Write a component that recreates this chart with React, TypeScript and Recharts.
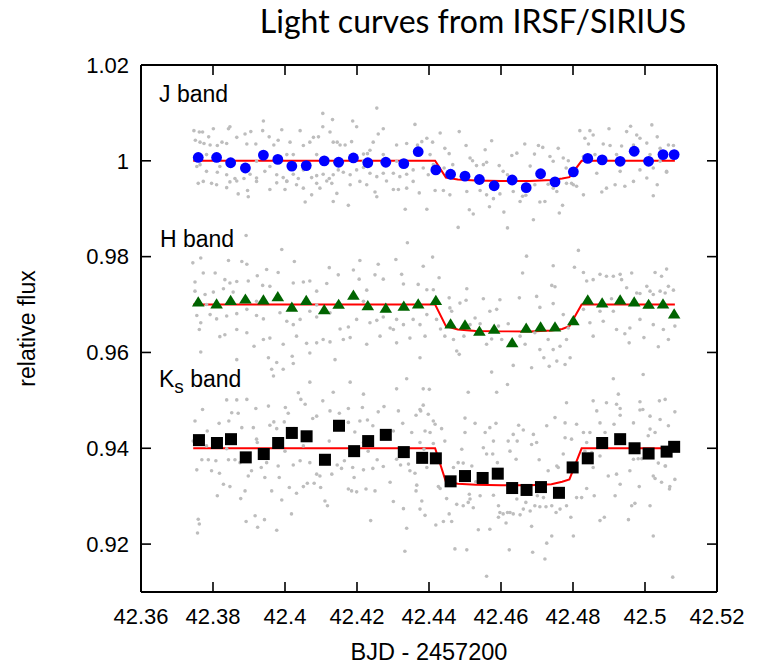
import React from 'react';
import { ComposedChart, Scatter, Line, XAxis, YAxis, Label } from 'recharts';

const titleText = 'Light curves from IRSF/SIRIUS';
const xLabel = 'BJD - 2457200';
const yLabel = 'relative flux';
const xTicks = [42.36, 42.38, 42.4, 42.42, 42.44, 42.46, 42.48, 42.5, 42.52];
const yTicks = [0.92, 0.94, 0.96, 0.98, 1, 1.02];

const binT = [42.3759, 42.381, 42.3849, 42.389, 42.394, 42.398, 42.4019, 42.4059, 42.4109, 42.4149, 42.419, 42.423, 42.428, 42.433, 42.437, 42.4419, 42.446, 42.45, 42.454, 42.4581, 42.4631, 42.467, 42.471, 42.475, 42.4801, 42.4841, 42.4881, 42.4931, 42.497, 42.501, 42.505, 42.5081];
const ksBinT = [42.3761, 42.3811, 42.385, 42.3891, 42.3941, 42.3981, 42.4019, 42.406, 42.4111, 42.415, 42.4192, 42.4231, 42.428, 42.433, 42.4381, 42.4419, 42.446, 42.45, 42.4549, 42.4591, 42.4631, 42.4671, 42.4711, 42.4761, 42.4799, 42.4841, 42.4881, 42.4931, 42.4971, 42.501, 42.506, 42.5081];

const jBinned = [1.0007, 1.0007, 0.9996, 0.9985, 1.0012, 1.0003, 0.9989, 0.999, 1.0, 0.9997, 1.0006, 0.9996, 0.9997, 0.9994, 1.0019, 0.9981, 0.9972, 0.9968, 0.9961, 0.9948, 0.996, 0.9944, 0.9973, 0.9956, 0.9977, 1.0005, 1.0002, 0.9999, 1.002, 0.9999, 1.0013, 1.0013];
const hBinned = [0.9706, 0.9702, 0.9709, 0.9712, 0.971, 0.9717, 0.9695, 0.9709, 0.969, 0.9701, 0.972, 0.9698, 0.9693, 0.9697, 0.9702, 0.9709, 0.966, 0.9658, 0.9645, 0.9649, 0.9621, 0.9651, 0.9654, 0.9654, 0.9667, 0.971, 0.9704, 0.971, 0.9706, 0.9701, 0.9702, 0.9681];
const ksBinned = [0.9417, 0.9411, 0.9419, 0.9381, 0.9388, 0.9411, 0.9432, 0.9425, 0.9376, 0.9447, 0.9394, 0.9415, 0.9428, 0.9392, 0.938, 0.9379, 0.9331, 0.9342, 0.9338, 0.9347, 0.9317, 0.9313, 0.9319, 0.9307, 0.936, 0.9379, 0.9411, 0.9419, 0.94, 0.9389, 0.9393, 0.9403];

const modelT = [42.3745, 42.4417, 42.4447, 42.448, 42.453, 42.46, 42.468, 42.474, 42.477, 42.479, 42.4824, 42.5083];
const jModel = [1.0, 1.0, 0.9965, 0.9961, 0.9959, 0.9958, 0.9958, 0.996, 0.9963, 0.9966, 1.0, 1.0];
const hModel = [0.97, 0.97, 0.9655, 0.9648, 0.9645, 0.9644, 0.9644, 0.9646, 0.9649, 0.9655, 0.97, 0.97];
const ksModel = [0.94, 0.94, 0.933, 0.9326, 0.9324, 0.9323, 0.9323, 0.9325, 0.933, 0.9335, 0.94, 0.94];

const jFrames = [
[42.3747,1.0063],[42.3762,1.006],[42.3771,1.006],[42.3801,1.0067],[42.3788,1.005],[42.3751,1.0043],[42.3764,1.0039],[42.3775,1.0036],[42.3792,1.0033],[42.3812,1.0032],[42.3825,1.0039],[42.3838,1.0036],[42.3847,1.0071],[42.3843,1.0067],[42.3866,1.0049],[42.3889,1.0056],[42.3905,1.0061],[42.3894,1.0035],[42.3919,1.0035],[42.394,1.0083],[42.3938,1.0063],[42.3956,1.005],[42.3969,1.0033],[42.3991,1.0065],[42.3981,1.0043],[42.4014,1.0039],[42.4023,1.0013],[42.4042,1.0063],[42.4051,1.0032],[42.4069,1.0039],[42.4079,1.0049],[42.4093,1.005],[42.4105,1.0099],[42.4105,1.0071],[42.4132,1.0086],[42.4125,1.006],[42.4134,1.0039],[42.4145,1.0039],[42.4153,1.0033],[42.4167,1.0033],[42.4188,1.0083],[42.4199,1.0071],[42.4185,1.004],[42.4218,1.0014],[42.4255,1.011],[42.4273,1.0067],[42.4259,1.0056],[42.4245,1.0039],[42.4236,1.0022],[42.4229,1.0015],[42.431,1.0033],[42.4338,1.0036],[42.4361,1.0076],[42.4368,1.0033],[42.438,1.004],[42.4394,1.0047],
[42.3755,0.9988],[42.3764,0.9992],[42.3782,0.9978],[42.3812,0.9976],[42.3819,0.9988],[42.3838,0.9971],[42.3866,0.9958],[42.3847,0.9956],[42.3861,0.9963],[42.3886,0.9963],[42.3903,0.9972],[42.3921,0.9964],[42.3944,0.9978],[42.3958,0.9988],[42.3977,0.9971],[42.3995,0.9965],[42.4005,0.9958],[42.4023,0.9972],[42.4037,0.9963],[42.4051,0.9981],[42.4074,0.9965],[42.4088,0.9969],[42.4106,0.9972],[42.4123,0.9963],[42.4134,0.9971],[42.4148,0.9981],[42.4162,0.9976],[42.4181,0.9971],[42.4199,0.9981],[42.4218,0.9986],[42.4236,0.9974],[42.4255,0.9967],[42.4273,0.9974],[42.4301,0.9974],[42.4319,0.9967],[42.4338,0.9972],[42.4356,0.9981],[42.4384,0.9985],
[42.3759,0.9953],[42.3773,0.9957],[42.3796,0.9953],[42.381,0.995],[42.3838,0.9944],[42.387,0.9931],[42.3896,0.9938],[42.3898,0.9925],[42.3921,0.9957],[42.3958,0.994],[42.3977,0.9954],[42.4,0.994],[42.4005,0.9957],[42.4032,0.995],[42.4051,0.9943],[42.4056,0.9914],[42.4074,0.9929],[42.4088,0.9953],[42.4097,0.9943],[42.4116,0.9958],[42.413,0.9953],[42.4134,0.9915],[42.4144,0.9932],[42.4176,0.9907],[42.4181,0.995],[42.4208,0.9957],[42.4227,0.995],[42.425,0.9935],[42.4255,0.9925],[42.4282,0.9958],[42.4301,0.994],[42.4315,0.994],[42.4338,0.9943],[42.4334,0.9899],[42.4356,0.9957],[42.4373,0.9933],[42.4394,0.9899],
[42.3782,1.0013],[42.3921,0.9999],[42.4005,1.0013],[42.4088,1.0013],[42.4218,0.9999],[42.4273,1.0013],[42.431,0.9999],
[42.441,1.0039],[42.4431,1.0058],[42.4444,1.0026],[42.4484,1.0061],[42.4456,1.0015],[42.4403,1.0013],[42.4412,0.9992],[42.4442,0.9985],[42.4466,0.9992],[42.4514,1.0006],[42.4503,1.0032],[42.4521,1.0],[42.4532,0.999],[42.4551,0.9992],[42.456,0.9997],[42.4574,1.0042],[42.4556,1.0023],[42.4595,0.999],[42.4606,0.9978],[42.4618,0.9971],[42.463,1.0011],[42.4644,1.0016],[42.4666,1.0035],[42.4681,0.9989],[42.4693,1.0014],[42.4704,1.0032],[42.4716,1.0028],[42.4736,1.0009],[42.4745,0.9999],[42.4759,1.0026],[42.4773,1.0006],[42.4781,0.9985],[42.4787,1.0],[42.4801,0.995],[42.4819,1.0063],[42.4833,1.0047],[42.4847,1.0063],[42.4856,1.0054],[42.4843,1.0035],[42.4829,1.0009],[42.4861,1.0013],[42.4884,1.0035],[42.4903,1.0032],[42.49,1.0067],[42.4921,1.0013],[42.4935,1.0031],[42.4949,1.0061],[42.496,1.0072],[42.4977,1.0054],[42.4968,1.0033],[42.4986,1.0047],[42.5005,1.0037],[42.5019,1.0075],[42.5034,1.005],[42.5014,1.0013],[42.5042,1.0026],[42.5065,1.0033],[42.5079,1.0032],[42.5042,0.9999],[42.506,0.9978],[42.5023,0.9985],
[42.4398,0.9971],[42.4417,0.9938],[42.444,0.9938],[42.4458,0.9929],[42.4481,0.9861],[42.4505,0.9936],[42.4512,0.9898],[42.4523,0.9889],[42.4542,0.9938],[42.456,0.9929],[42.4568,0.9904],[42.4579,0.9921],[42.4597,0.9931],[42.4608,0.9893],[42.4618,0.986],[42.4634,0.9936],[42.4653,0.9915],[42.466,0.9926],[42.4669,0.9928],[42.469,0.9877],[42.4694,0.995],[42.4708,0.9914],[42.4722,0.9915],[42.4731,0.9951],[42.4745,0.9943],[42.4755,0.9936],[42.4762,0.9891],[42.4771,0.9907],[42.4782,0.9953],[42.4796,0.9953],[42.481,0.9947],[42.4829,0.9929],[42.4866,0.9974],[42.488,0.9935],[42.4893,0.9943],[42.4917,0.995],[42.4931,0.9978],[42.4944,0.9947],[42.4968,0.9957],[42.4986,0.9981],[42.5005,0.9964],[42.5023,0.9927],[42.5034,0.995],[42.506,0.9976]
];

const hFrames = [
[42.3892,0.9844],[42.3991,0.9815],[42.3744,0.9787],[42.3766,0.9797],[42.3843,0.9792],[42.388,0.979],[42.3894,0.9784],[42.4026,0.979],[42.4123,0.9777],[42.4208,0.9792],[42.4259,0.9784],[42.4308,0.9794],[42.4384,0.978],[42.434,0.9829],
[42.375,0.9747],[42.3773,0.9766],[42.3806,0.9766],[42.3833,0.9752],[42.3847,0.9745],[42.3866,0.9748],[42.3898,0.9749],[42.3923,0.976],[42.3949,0.9773],[42.3981,0.9767],[42.3938,0.974],[42.3958,0.9738],[42.4023,0.9745],[42.4051,0.9747],[42.4069,0.9749],[42.4088,0.9728],[42.4116,0.9744],[42.4148,0.9762],[42.419,0.9772],[42.4206,0.9753],[42.4227,0.973],[42.425,0.9762],[42.4273,0.9753],[42.4324,0.9763],[42.4329,0.9743],[42.437,0.9742],[42.4394,0.9731],[42.3829,0.9733],[42.3801,0.9726],[42.3778,0.9721],[42.375,0.9728],[42.3856,0.9726],
[42.3755,0.9677],[42.3766,0.9662],[42.3792,0.9679],[42.381,0.967],[42.3838,0.9676],[42.3866,0.9681],[42.3894,0.969],[42.3921,0.9677],[42.394,0.967],[42.3986,0.9683],[42.4005,0.9665],[42.4023,0.9658],[42.4042,0.9669],[42.4069,0.9686],[42.4088,0.9674],[42.4125,0.9683],[42.4153,0.9649],[42.4176,0.9653],[42.4199,0.9669],[42.4236,0.9662],[42.4255,0.9667],[42.4273,0.9674],[42.4292,0.9651],[42.431,0.9669],[42.4329,0.9658],[42.4356,0.9669],[42.4375,0.9658],[42.4394,0.9679],
[42.3762,0.9648],[42.3819,0.9633],[42.3833,0.9637],[42.3866,0.9648],[42.3894,0.9641],[42.3914,0.9613],[42.394,0.9627],[42.3958,0.963],[42.3995,0.9617],[42.4032,0.9634],[42.406,0.9619],[42.4088,0.962],[42.4125,0.9622],[42.4162,0.9627],[42.4181,0.9631],[42.4227,0.9617],[42.4264,0.9634],[42.4301,0.9648],[42.4347,0.963],[42.4389,0.9634],
[42.3766,0.9601],[42.3866,0.9585],[42.3954,0.9589],[42.3977,0.9579],[42.402,0.9592],[42.4023,0.9577],[42.4069,0.9599],[42.4106,0.9627],[42.4139,0.9585],[42.431,0.962],[42.4375,0.9589],
[42.3782,0.97],[42.3921,0.9707],[42.4088,0.9699],[42.4218,0.9707],[42.4329,0.9698],
[42.441,0.9799],[42.4671,0.9801],[42.4815,0.9813],[42.4745,0.9781],[42.4804,0.9778],[42.4912,0.9759],
[42.4412,0.9731],[42.4428,0.9756],[42.4456,0.9714],[42.4505,0.9733],[42.4486,0.9703],[42.4503,0.9709],[42.4551,0.9712],[42.4569,0.9686],[42.4597,0.971],[42.4588,0.969],[42.4651,0.9714],[42.466,0.9766],[42.4699,0.9717],[42.4708,0.9694],[42.4741,0.974],[42.475,0.9737],[42.4745,0.9702],[42.4773,0.9679],[42.4829,0.9767],[42.4838,0.9749],[42.4856,0.9752],[42.4875,0.9763],[42.4893,0.9759],[42.4931,0.9763],[42.4935,0.9752],[42.4949,0.9735],[42.4963,0.9766],[42.4986,0.9723],[42.5005,0.9738],[42.5014,0.9728],[42.5028,0.9767],[42.5042,0.9728],[42.5046,0.9759],[42.506,0.9774],[42.5065,0.9738],[42.5079,0.973],[42.4907,0.9712],[42.4977,0.9724],[42.5023,0.9721],[42.5056,0.9724],
[42.4421,0.9669],[42.4432,0.9649],[42.4444,0.9634],[42.4458,0.9693],[42.4463,0.9686],[42.4468,0.9627],[42.4477,0.9603],[42.4484,0.9596],[42.4497,0.9634],[42.4514,0.9658],[42.4528,0.9672],[42.4542,0.966],[42.456,0.9617],[42.4574,0.9628],[42.4593,0.9655],[42.4602,0.9627],[42.462,0.966],[42.4634,0.9573],[42.4653,0.9634],[42.4667,0.9617],[42.4685,0.9568],[42.4694,0.9641],[42.4708,0.9606],[42.4719,0.9589],[42.4731,0.9627],[42.4734,0.9571],[42.4745,0.9606],[42.4755,0.9582],[42.4764,0.9613],[42.4778,0.9575],[42.4782,0.9627],[42.4792,0.9589],[42.4787,0.9651],
[42.4829,0.969],[42.4847,0.9662],[42.4856,0.9634],[42.4884,0.9665],[42.4912,0.9686],[42.4921,0.9648],[42.4944,0.9639],[42.4958,0.9651],[42.4956,0.962],[42.4997,0.9631],[42.5023,0.9658],[42.5037,0.9612],[42.5051,0.9648],[42.5065,0.9627],[42.5083,0.9655],[42.4986,0.9669],[42.4875,0.9686]
];

const ksFrames = [
[42.3963,0.9565],[42.3968,0.9551],[42.3995,0.9565],[42.4069,0.9538],[42.4037,0.9516],[42.4134,0.9517],[42.4181,0.9538],[42.4218,0.9513],[42.431,0.9524],[42.4338,0.9545],[42.4384,0.9524],[42.3838,0.9501],[42.3866,0.9501],[42.3894,0.9502],
[42.4401,0.9523],[42.4509,0.9517],[42.4574,0.9559],[42.4588,0.9517],[42.4618,0.9533],[42.4375,0.9481],[42.45,0.9463],[42.4778,0.9453],[42.4727,0.9447],[42.4926,0.9513],[42.5056,0.9502],[42.4912,0.9545],[42.4995,0.9554],[42.4866,0.9478],
[42.375,0.9457],[42.3771,0.9481],[42.3784,0.9436],[42.3817,0.9452],[42.3844,0.9457],[42.3852,0.9474],[42.387,0.9473],[42.388,0.9443],[42.3912,0.9443],[42.3919,0.9483],[42.3954,0.9488],[42.3958,0.9448],[42.3969,0.9455],[42.3977,0.9441],[42.3998,0.9455],[42.4001,0.9485],[42.4009,0.9473],[42.4025,0.9441],[42.4044,0.9502],[42.4056,0.9492],[42.4077,0.9462],[42.4088,0.9467],[42.4105,0.9499],[42.4125,0.9478],[42.4151,0.9473],[42.4176,0.9483],[42.4176,0.9454],[42.4194,0.9434],[42.4208,0.9457],[42.4215,0.9485],[42.4229,0.9459],[42.4244,0.9447],[42.4259,0.9476],[42.4275,0.9487],[42.4301,0.9436],[42.4315,0.9478],[42.4327,0.9452],[42.4352,0.9433],[42.4364,0.9469],[42.4377,0.9478],[42.4384,0.949],[42.4389,0.9436],
[42.3745,0.9415],[42.3755,0.9355],[42.3769,0.9376],[42.3787,0.9376],[42.3796,0.9353],[42.3808,0.9374],[42.3818,0.9348],[42.3829,0.9325],[42.3838,0.9399],[42.3843,0.9376],[42.3847,0.932],[42.3861,0.9376],[42.3875,0.937],[42.3898,0.9342],[42.3907,0.9353],[42.3923,0.9412],[42.3934,0.936],[42.3944,0.9339],[42.3949,0.937],[42.3963,0.9311],[42.3981,0.9363],[42.3984,0.9339],[42.3991,0.9292],[42.4,0.9394],[42.4012,0.9318],[42.4023,0.9365],[42.4032,0.9306],[42.4042,0.9374],[42.4051,0.932],[42.4062,0.9327],[42.4069,0.937],[42.4081,0.9327],[42.4088,0.9346],[42.4097,0.9342],[42.4099,0.9318],[42.4111,0.929],[42.4118,0.928],[42.4123,0.9415],[42.413,0.9346],[42.4145,0.9365],[42.4157,0.9358],[42.4165,0.9374],[42.4176,0.9315],[42.4185,0.9311],[42.4188,0.936],[42.4192,0.9339],[42.4199,0.9309],[42.4218,0.9355],[42.4225,0.9315],[42.4231,0.9394],[42.4244,0.9358],[42.425,0.9311],[42.4256,0.9376],[42.4273,0.9362],[42.4292,0.9329],[42.4301,0.9289],[42.431,0.9377],[42.4321,0.9365],[42.4329,0.9274],[42.4343,0.9367],[42.4347,0.9353],[42.4361,0.9348],[42.4366,0.9323],[42.4375,0.9273],[42.438,0.929],[42.4389,0.926],[42.4394,0.936],[42.4364,0.9311],
[42.3759,0.9252],[42.3762,0.9242],[42.3757,0.9223],[42.3812,0.9301],[42.3892,0.9247],[42.3917,0.9259],[42.3924,0.9235],[42.3943,0.9251],[42.3977,0.9229],[42.4018,0.9263],[42.4238,0.9249],[42.4338,0.9233],[42.4333,0.9185],[42.3877,0.9295],[42.3889,0.9311],
[42.3782,0.9405],[42.3921,0.9419],[42.4051,0.9405],[42.4218,0.9412],[42.4329,0.9398],
[42.4782,0.9495],[42.4856,0.9499],[42.4893,0.9495],[42.4921,0.9492],[42.4986,0.9497],[42.504,0.9499],[42.4398,0.9471],[42.4412,0.9457],[42.4417,0.945],[42.4435,0.9441],[42.4444,0.9415],[42.4403,0.9433],[42.4375,0.9412],[42.4386,0.9398],[42.4412,0.941],[42.4468,0.936],[42.4481,0.937],[42.4495,0.9369],[42.45,0.9433],[42.4528,0.9452],[42.4491,0.9398],[42.4519,0.9363],[42.4556,0.9433],[42.4569,0.9443],[42.4586,0.9452],[42.4579,0.9415],[42.4551,0.9401],[42.456,0.9388],[42.4577,0.9388],[42.459,0.937],[42.462,0.9415],[42.4625,0.9394],[42.4634,0.9429],[42.4645,0.9415],[42.4649,0.9448],[42.4662,0.9438],[42.4642,0.9377],[42.469,0.9429],[42.4685,0.9408],[42.4699,0.9412],[42.4706,0.9376],[42.4731,0.9353],[42.475,0.9464],[42.4755,0.9363],[42.4759,0.936],[42.4773,0.9388],[42.4778,0.9422],[42.4796,0.9419],[42.481,0.945],[42.4829,0.9433],[42.4838,0.9412],[42.4847,0.9433],[42.4833,0.9394],[42.4852,0.9391],[42.4856,0.936],[42.4875,0.9453],[42.4889,0.9433],[42.4914,0.945],[42.4931,0.9469],[42.4931,0.9483],[42.4968,0.9453],[42.4986,0.948],[42.4994,0.9481],[42.5014,0.9467],[42.5014,0.944],[42.5028,0.9433],[42.5042,0.946],[42.5065,0.9447],[42.5083,0.9476],[42.4884,0.9412],[42.4875,0.9384],[42.4898,0.9342],[42.4921,0.9346],[42.4931,0.9325],[42.4958,0.9353],[42.4968,0.9377],[42.4981,0.9378],[42.4991,0.9378],[42.5023,0.9342],[42.5037,0.9369],[42.5046,0.9329],[42.5056,0.9363],[42.5069,0.932],[42.5083,0.9335],[42.5009,0.9426],
[42.4426,0.932],[42.4431,0.9316],[42.4449,0.9295],[42.4456,0.9263],[42.4463,0.9247],[42.4419,0.924],[42.444,0.9247],[42.4477,0.9283],[42.4495,0.928],[42.4509,0.9287],[42.4514,0.9294],[42.4512,0.9304],[42.4523,0.9276],[42.4537,0.923],[42.4542,0.9301],[42.4569,0.9231],[42.4579,0.9302],[42.4593,0.928],[42.4593,0.9256],[42.4597,0.9266],[42.4606,0.9263],[42.4614,0.9244],[42.4618,0.9266],[42.4625,0.9266],[42.4634,0.9263],[42.4644,0.9294],[42.4653,0.9261],[42.4662,0.9273],[42.4669,0.9287],[42.4681,0.9269],[42.4685,0.9237],[42.4688,0.9183],[42.4694,0.928],[42.4701,0.9301],[42.4708,0.9278],[42.4718,0.9297],[42.4725,0.9278],[42.4727,0.9202],[42.4741,0.9217],[42.4741,0.928],[42.4753,0.9266],[42.4764,0.9273],[42.4782,0.928],[42.4794,0.9256],[42.4801,0.9217],[42.481,0.9297],[42.4824,0.9297],[42.4838,0.9316],[42.4843,0.9388],[42.4859,0.9301],[42.4875,0.9249],[42.4887,0.9256],[42.4917,0.9301],[42.4954,0.9251],[42.4963,0.928],[42.4972,0.9285],[42.4984,0.932],[42.5014,0.928],[42.5023,0.9217],[42.5028,0.9337],[42.5057,0.9363],[42.5068,0.9315],
[42.4472,0.919],[42.4505,0.9188],[42.456,0.9133],[42.4623,0.9188],[42.4722,0.9169],[42.5077,0.9131],
[42.453,0.933],[42.462,0.9322],[42.47,0.9325]
];

const zip = (ts: number[], fs: number[]) => ts.map((t, i) => ({ t, f: fs[i] }));
const fromPairs = (arr: number[][]) => arr.map(([t, f]) => ({ t, f }));

const FONT = '"Liberation Sans", Arial, sans-serif';

const GrayDot = (p: any) => <circle cx={p.cx} cy={p.cy} r={1.8} fill="#bdbdbd" />;
const BlueDot = (p: any) => <circle cx={p.cx} cy={p.cy} r={5.4} fill="#0000ff" />;
const GreenTri = (p: any) => (
  <polygon points={`${p.cx - 6.3},${p.cy + 4.8} ${p.cx + 6.3},${p.cy + 4.8} ${p.cx},${p.cy - 5.4}`} fill="#006400" />
);
const BlackSq = (p: any) => <rect x={p.cx - 6} y={p.cy - 6} width={12} height={12} fill="#000000" />;
const EmptyTick = () => <g />;

const W = 762;
const H = 657;

export default function App() {
  const axisCommon = { type: 'number' as const, allowDataOverflow: true };
  const frameLine = { stroke: '#000', strokeWidth: 2 };
  const tickLineStyle = { stroke: '#000', strokeWidth: 1.6 };
  return (
    <div style={{ position: 'relative', width: W, height: H, background: '#fff' }}>
      <ComposedChart width={W} height={H} margin={{ top: 57, right: 53, bottom: 0, left: 0 }}>
        <XAxis xAxisId="b" dataKey="t" {...axisCommon} domain={[42.36, 42.52]} ticks={xTicks} interval={0}
          tickLine={false} tickSize={0} tickMargin={16} axisLine={frameLine} height={73}
          tick={{ fill: '#000', fontSize: 22, fontFamily: FONT }}>
          <Label value={xLabel} position="insideBottom" offset={5}
            style={{ fill: '#000', fontSize: 23.5, fontFamily: FONT }} />
        </XAxis>
        <XAxis xAxisId="bm" dataKey="t" {...axisCommon} domain={[42.36, 42.52]} ticks={xTicks} interval={0}
          orientation="bottom" mirror tick={EmptyTick} tickSize={10} tickLine={tickLineStyle} axisLine={false} height={20} />
        <XAxis xAxisId="tm" dataKey="t" {...axisCommon} domain={[42.36, 42.52]} ticks={xTicks} interval={0}
          orientation="top" mirror tick={EmptyTick} tickSize={10} tickLine={tickLineStyle} axisLine={frameLine} height={20} />
        <YAxis yAxisId="l" dataKey="f" {...axisCommon} domain={[0.91, 1.02]} ticks={yTicks} interval={0}
          tickLine={false} tickSize={0} tickMargin={12} axisLine={frameLine} width={133}
          tick={{ fill: '#000', fontSize: 22, fontFamily: FONT }}>
          <Label content={(props: any) => {
            const vb = props.viewBox || { x: 0, y: 57, width: 133, height: 527 };
            const cx = vb.x + 19;
            const cy = vb.y + vb.height / 2;
            return (
              <text x={cx} y={cy} transform={`rotate(-90, ${cx}, ${cy})`} textAnchor="middle"
                dominantBaseline="central" fill="#000" fontSize={23} fontFamily={FONT}>{yLabel}</text>
            );
          }} />
        </YAxis>
        <YAxis yAxisId="lm" dataKey="f" {...axisCommon} domain={[0.91, 1.02]} ticks={yTicks} interval={0}
          orientation="left" mirror tick={EmptyTick} tickSize={10} tickLine={tickLineStyle} axisLine={false} width={20} />
        <YAxis yAxisId="rm" dataKey="f" {...axisCommon} domain={[0.91, 1.02]} ticks={yTicks} interval={0}
          orientation="right" mirror tick={EmptyTick} tickSize={10} tickLine={tickLineStyle} axisLine={frameLine} width={20} />

        <Scatter name="J frames" data={fromPairs(jFrames)} xAxisId="b" yAxisId="l" shape={GrayDot} isAnimationActive={false} />
        <Scatter name="H frames" data={fromPairs(hFrames)} xAxisId="b" yAxisId="l" shape={GrayDot} isAnimationActive={false} />
        <Scatter name="Ks frames" data={fromPairs(ksFrames)} xAxisId="b" yAxisId="l" shape={GrayDot} isAnimationActive={false} />

        <Line name="J model" data={zip(modelT, jModel)} dataKey="f" xAxisId="b" yAxisId="l" type="linear" dot={false}
          stroke="#ff0000" strokeWidth={2} isAnimationActive={false} />
        <Line name="H model" data={zip(modelT, hModel)} dataKey="f" xAxisId="b" yAxisId="l" type="linear" dot={false}
          stroke="#ff0000" strokeWidth={2} isAnimationActive={false} />
        <Line name="Ks model" data={zip(modelT, ksModel)} dataKey="f" xAxisId="b" yAxisId="l" type="linear" dot={false}
          stroke="#ff0000" strokeWidth={2} isAnimationActive={false} />

        <Scatter name="J binned" data={zip(binT, jBinned)} xAxisId="b" yAxisId="l" shape={BlueDot} isAnimationActive={false} />
        <Scatter name="H binned" data={zip(binT, hBinned)} xAxisId="b" yAxisId="l" shape={GreenTri} isAnimationActive={false} />
        <Scatter name="Ks binned" data={zip(ksBinT, ksBinned)} xAxisId="b" yAxisId="l" shape={BlackSq} isAnimationActive={false} />
      </ComposedChart>
      <svg width={W} height={H + 8} style={{ position: 'absolute', left: 0, top: -8, pointerEvents: 'none' }}>
        <text x={465} y={33} textAnchor="middle" fontFamily="Lato, 'Open Sans', sans-serif" fontSize={32} fill="#000">{titleText}</text>
        <text x={151} y={102} fontFamily={FONT} fontSize={23} fill="#000">J band</text>
        <text x={152} y={247} fontFamily={FONT} fontSize={23} fill="#000">H band</text>
        <text x={151} y={387} fontFamily={FONT} fontSize={23} fill="#000">K<tspan dy={6} fontSize={19}>s</tspan><tspan dy={-6}> band</tspan></text>
      </svg>
    </div>
  );
}
